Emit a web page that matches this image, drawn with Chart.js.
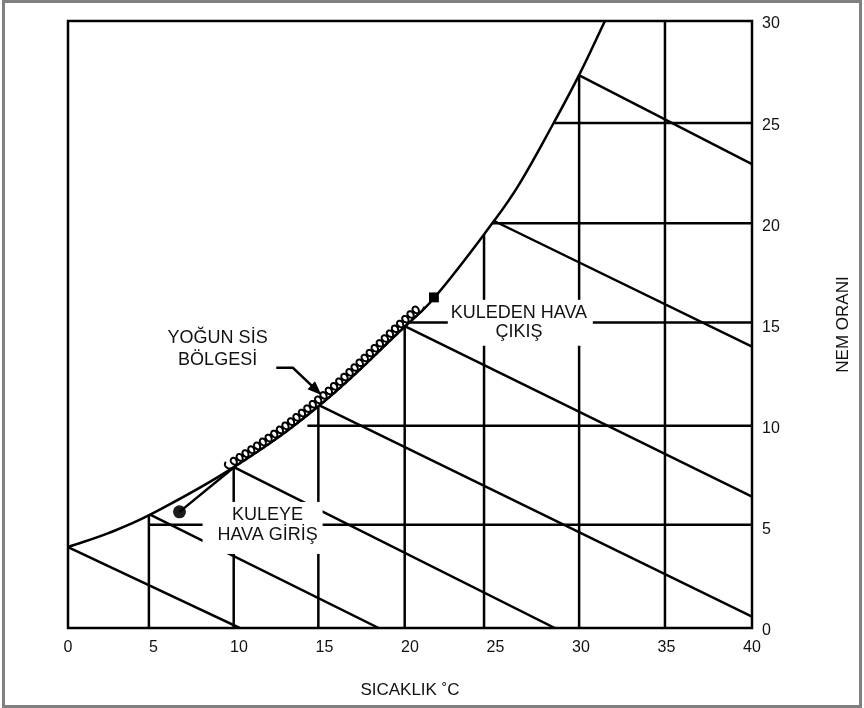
<!DOCTYPE html>
<html><head><meta charset="utf-8">
<script src="https://cdn.jsdelivr.net/npm/chart.js@4"></script>
<style>html,body{margin:0;padding:0;background:#fff;}#wrap{width:864px;height:708px;position:relative;}canvas{display:block;}</style>
</head><body><div id="wrap"><canvas id="c" width="864" height="708"></canvas></div>
<script>
// ---- data ----
const xTicks = [0, 5, 10, 15, 20, 25, 30, 35, 40];
const yTicks = [0, 5, 10, 15, 20, 25, 30];
// saturation curve (temperature °C, humidity ratio)
const satTemp = [0, 2.4, 4.8, 9.7, 14.7, 19.7, 21.4, 24.9, 26.4, 28.4, 29.9, 31.4];
const satHum  = [4.0, 4.7, 5.6, 7.95, 11.0, 14.9, 16.3, 20.1, 21.95, 24.96, 27.35, 30.0];
// vertical dry-bulb lines
const dryX   = [4.73, 9.69, 14.64, 19.69, 24.33, 29.89, 34.91];
const dryTop = [5.55, 7.95, 10.97, 14.9, 19.45, 27.35, 30];
// horizontal humidity lines
const humY     = [5.1, 10.0, 15.1, 20.0, 24.96];
const humStart = [4.73, 14.0, 20.0, 24.85, 28.43];
// wet-bulb (sloping) lines
const wbStartX = [0, 4.8, 9.7, 14.7, 19.75, 24.86, 29.93];
const wbStartY = [4.0, 5.6, 7.95, 11.0, 14.9, 20.14, 27.3];
const wbEndX   = [10.04, 18.17, 28.47, 40, 40, 40, 40];
const wbEndY   = [0, 0, 0, 0.56, 6.49, 13.91, 22.93];
// state points
const inletPt   = [6.52, 5.74];
const inletLead = [9.8, 8.01];
const outletPt  = [21.4, 16.34];
const fogRange  = [9.45, 20.76];
// annotations (data units)
const notes = [
  {lines: ['YOĞUN SİS', 'BÖLGESİ'], x: 8.75, y: [14.41, 13.32]},
  {lines: ['KULEYE', 'HAVA GİRİŞ'], x: 11.67, y: [5.64, 4.65], box: [7.87, 14.89, 3.66, 6.23]},
  {lines: ['KULEDEN HAVA', 'ÇIKIŞ'], x: 26.37, y: [15.65, 14.71], box: [22.21, 30.69, 13.95, 16.22]}
];
const fogArrowX = [12.18, 13.15, 14.82];
const fogArrowY = [12.86, 12.86, 11.52];
const xTitle = 'SICAKLIK ˚C';
const yTitle = 'NEM ORANI';

// ---- build datasets ----
const LW = 2.5;
const lineDs = (pts, extra) => Object.assign({data: pts, showLine: true, borderColor: '#000', borderWidth: LW, pointRadius: 0, pointHoverRadius: 0, fill: false, borderCapStyle: 'butt'}, extra || {});
const datasets = [];
datasets.push(lineDs(satTemp.map((t, i) => ({x: t, y: satHum[i]})), {tension: 0.4}));
dryX.forEach((x, i) => datasets.push(lineDs([{x, y: 0}, {x, y: dryTop[i]}])));
humY.forEach((y, i) => datasets.push(lineDs([{x: humStart[i], y}, {x: 40, y}])));
wbStartX.forEach((x, i) => datasets.push(lineDs([{x, y: wbStartY[i]}, {x: wbEndX[i], y: wbEndY[i]}])));
datasets.push(lineDs([{x: inletPt[0], y: inletPt[1]}, {x: inletLead[0], y: inletLead[1]}]));
datasets.push({data: [{x: inletPt[0], y: inletPt[1]}], showLine: false, pointRadius: 6.5, pointStyle: 'circle', backgroundColor: '#1c1c1c', borderWidth: 0});
datasets.push({data: [{x: outletPt[0], y: outletPt[1]}], showLine: false, pointRadius: 7, pointStyle: 'rect', backgroundColor: '#000', borderWidth: 0});

const FONT = '"Liberation Sans", Arial, Helvetica, sans-serif';

const overlay = {
  id: 'overlay',
  afterDatasetsDraw(chart) {
    const {ctx, chartArea: a} = chart;
    const xs = chart.scales.x, ys = chart.scales.y;
    const px = v => xs.getPixelForValue(v), py = v => ys.getPixelForValue(v);
    ctx.save();
    // fog coil along the saturation curve
    const pts = chart.getDatasetMeta(0).data;
    const poly = [];
    for (let i = 0; i < pts.length - 1; i++) {
      const p0 = pts[i], p1 = pts[i + 1];
      const c1x = p0.cp2x ?? p0.x, c1y = p0.cp2y ?? p0.y, c2x = p1.cp1x ?? p1.x, c2y = p1.cp1y ?? p1.y;
      for (let k = 0; k < 60; k++) {
        const t = k / 60, u = 1 - t;
        poly.push([u*u*u*p0.x + 3*u*u*t*c1x + 3*u*t*t*c2x + t*t*t*p1.x,
                   u*u*u*p0.y + 3*u*u*t*c1y + 3*u*t*t*c2y + t*t*t*p1.y]);
      }
    }
    const X0 = px(fogRange[0]), X1 = px(fogRange[1]);
    const seg = poly.filter(p => p[0] >= X0 && p[0] <= X1);
    const cum = [0];
    for (let i = 1; i < seg.length; i++) cum.push(cum[i-1] + Math.hypot(seg[i][0]-seg[i-1][0], seg[i][1]-seg[i-1][1]));
    const L = cum[cum.length - 1];
    const at = s => {
      let i = 1; while (i < cum.length - 1 && cum[i] < s) i++;
      const f = (s - cum[i-1]) / ((cum[i] - cum[i-1]) || 1);
      const x = seg[i-1][0] + f*(seg[i][0]-seg[i-1][0]), y = seg[i-1][1] + f*(seg[i][1]-seg[i-1][1]);
      const dx = seg[i][0]-seg[i-1][0], dy = seg[i][1]-seg[i-1][1], d = Math.hypot(dx, dy) || 1;
      return [x, y, dx/d, dy/d];
    };
    const pitch = 7.0, amp = 4.4, r0 = 4.2;
    ctx.beginPath();
    let first = true;
    for (let s = 0; s <= L; s += 0.2) {
      const [x, y, tx, ty] = at(s);
      const nx = ty, ny = -tx; // upper-left normal
      const ph = 2 * Math.PI * s / pitch + Math.PI / 2;
      const ox = tx * amp * Math.cos(ph) + nx * (r0 + amp * Math.sin(ph));
      const oy = ty * amp * Math.cos(ph) + ny * (r0 + amp * Math.sin(ph));
      if (first) { ctx.moveTo(x + ox, y + oy); first = false; } else ctx.lineTo(x + ox, y + oy);
    }
    ctx.strokeStyle = '#000'; ctx.lineWidth = 2; ctx.lineJoin = 'round';
    ctx.stroke();

    // white label boxes and texts
    notes.forEach(n => {
      if (n.box) {
        const bx0 = px(n.box[0]), bx1 = px(n.box[1]), by0 = py(n.box[3]), by1 = py(n.box[2]);
        ctx.fillStyle = '#fff';
        ctx.fillRect(bx0, by0, bx1 - bx0, by1 - by0);
      }
    });
    const FS = 18;
    ctx.fillStyle = '#111';
    ctx.font = FS + 'px ' + FONT;
    ctx.textAlign = 'center'; ctx.textBaseline = 'alphabetic';
    notes.forEach(n => n.lines.forEach((t, i) => ctx.fillText(t, px(n.x), py(n.y[i]) + 0.358 * FS)));

    // fog arrow
    ctx.beginPath();
    const ax = fogArrowX.map(px), ay = fogArrowY.map(py);
    const hl = 14, hw = 5.5;
    const dx = ax[2]-ax[1], dy = ay[2]-ay[1], d = Math.hypot(dx, dy);
    const ux = dx/d, uy = dy/d;
    ctx.moveTo(ax[0], ay[0]); ctx.lineTo(ax[1], ay[1]); ctx.lineTo(ax[2] - ux*hl*0.8, ay[2] - uy*hl*0.8);
    ctx.lineWidth = LW; ctx.strokeStyle = '#000'; ctx.lineJoin = 'miter';
    ctx.stroke();
    ctx.beginPath();
    ctx.moveTo(ax[2], ay[2]);
    ctx.lineTo(ax[2] - ux*hl - uy*hw, ay[2] - uy*hl + ux*hw);
    ctx.lineTo(ax[2] - ux*hl + uy*hw, ay[2] - uy*hl - ux*hw);
    ctx.closePath(); ctx.fillStyle = '#000'; ctx.fill();

    // plot frame
    ctx.lineWidth = LW; ctx.strokeStyle = '#000';
    ctx.strokeRect(a.left, a.top, a.right - a.left, a.bottom - a.top);

    // axis titles
    ctx.fillStyle = '#111';
    ctx.font = '17px ' + FONT;
    ctx.textAlign = 'center'; ctx.textBaseline = 'middle';
    ctx.fillText(xTitle, (a.left + a.right) / 2, a.bottom + 62);
    ctx.save();
    ctx.translate(a.right + 91, (a.top + a.bottom) / 2);
    ctx.rotate(-Math.PI / 2);
    ctx.fillText(yTitle, 0, 0);
    ctx.restore();

    // outer gray frame
    ctx.strokeStyle = '#808080'; ctx.lineWidth = 3;
    ctx.strokeRect(3.5, 1.5, 857, 705);
    ctx.restore();
  }
};

new Chart(document.getElementById('c'), {
  type: 'scatter',
  data: {datasets},
  options: {
    responsive: false, animation: false, events: [],
    layout: {padding: {left: 68, top: 21, right: 0, bottom: 0}},
    plugins: {legend: {display: false}, tooltip: {enabled: false}},
    scales: {
      x: {
        type: 'linear', position: 'bottom', min: 0, max: 40,
        afterFit: s => { s.height = 80; },
        afterBuildTicks: s => { s.ticks = xTicks.map(v => ({value: v})); },
        grid: {display: false, drawTicks: false},
        border: {display: false},
        ticks: {padding: 10, color: '#111', font: {family: FONT, size: 16}, maxRotation: 0, autoSkip: false}
      },
      y: {
        type: 'linear', position: 'right', min: 0, max: 30,
        afterFit: s => { s.width = 112; },
        afterBuildTicks: s => { s.ticks = yTicks.map(v => ({value: v})); },
        grid: {display: false, drawTicks: false},
        border: {display: false},
        ticks: {padding: 10, labelOffset: 3, color: '#111', font: {family: FONT, size: 16}, autoSkip: false}
      }
    }
  },
  plugins: [overlay]
});
</script></body></html>
